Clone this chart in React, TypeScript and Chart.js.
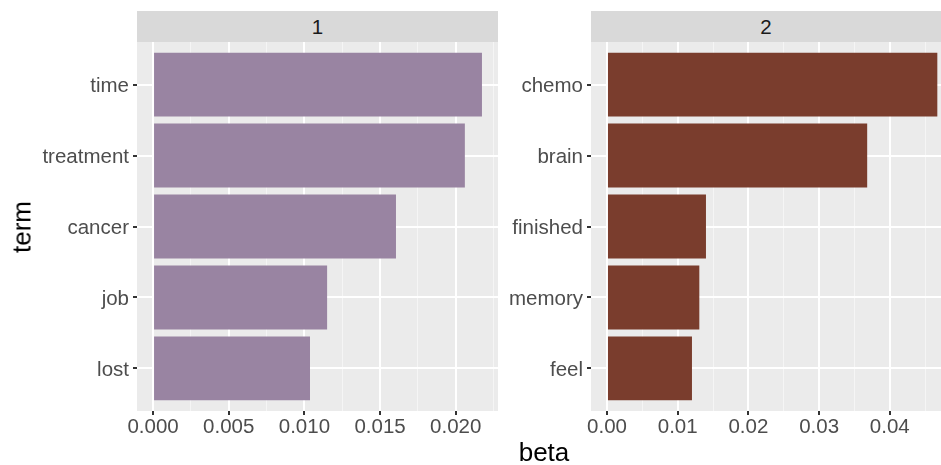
import React, { useEffect, useRef } from "react";
import { Chart, registerables } from "chart.js";

Chart.register(...registerables);

const terms1 = ["time", "treatment", "cancer", "job", "lost"];
const beta1 = [0.02173, 0.0206, 0.01605, 0.0115, 0.01037];
const terms2 = ["chemo", "brain", "finished", "memory", "feel"];
const beta2 = [0.04672, 0.0368, 0.014, 0.01306, 0.01202];
const topics = ["1", "2"];
const ticks1 = [0, 0.0025, 0.005, 0.0075, 0.01, 0.0125, 0.015, 0.0175, 0.02, 0.0225];
const ticks2 = [0, 0.005, 0.01, 0.015, 0.02, 0.025, 0.03, 0.035, 0.04, 0.045];

const FONT = "'Liberation Sans', Arial, sans-serif";

const panelBg = {
  id: "panelBg",
  beforeDraw(chart: any) {
    const { ctx, chartArea } = chart;
    ctx.save();
    ctx.fillStyle = "#EBEBEB";
    ctx.fillRect(chartArea.left, chartArea.top, chartArea.right - chartArea.left, chartArea.bottom - chartArea.top);
    ctx.restore();
  },
};

function makeConfig(
  terms: string[],
  values: number[],
  color: string,
  xTicks: number[],
  majorStep: number,
  decimals: number,
  xmin: number,
  xmax: number,
  yWidth: number,
  padRight: number
) {
  const isMajor = (v: number) => Math.abs(v / majorStep - Math.round(v / majorStep)) < 1e-6;
  return {
    type: "bar" as const,
    data: {
      datasets: [
        {
          data: values.map((v, i) => ({ x: v, y: i + 1 })),
          backgroundColor: color,
          borderWidth: 0,
          categoryPercentage: 1,
          barPercentage: 0.9,
        },
      ],
    },
    options: {
      indexAxis: "y" as const,
      animation: false as const,
      responsive: false,
      layout: { padding: { left: 0, right: padRight, top: 42, bottom: 0 } },
      plugins: { legend: { display: false }, tooltip: { enabled: false }, title: { display: false } },
      scales: {
        x: {
          type: "linear" as const,
          min: xmin,
          max: xmax,
          offset: false,
          afterBuildTicks: (scale: any) => {
            scale.ticks = xTicks.map((value) => ({ value }));
          },
          afterFit: (scale: any) => {
            scale.height = 54;
          },
          border: { display: false },
          grid: {
            offset: false,
            color: (ctx: any) => (ctx.tick && isMajor(ctx.tick.value) ? "#FFFFFF" : "#F5F5F5"),
            lineWidth: (ctx: any) => (ctx.tick && isMajor(ctx.tick.value) ? 2 : 1),
            tickColor: (ctx: any) => (ctx.tick && isMajor(ctx.tick.value) ? "#333333" : "rgba(0,0,0,0)"),
            tickLength: 4,
            drawTicks: true,
          },
          ticks: {
            autoSkip: false,
            maxRotation: 0,
            padding: 0,
            color: "#4D4D4D",
            font: { family: FONT, size: 20.5 },
            callback: (v: any) => (isMajor(Number(v)) ? Number(v).toFixed(decimals) : ""),
          },
        },
        y: {
          type: "linear" as const,
          min: 0.4,
          max: 5.6,
          reverse: true,
          offset: false,
          afterBuildTicks: (scale: any) => {
            scale.ticks = terms.map((_, i) => ({ value: i + 1 }));
          },
          afterFit: (scale: any) => {
            scale.width = yWidth;
          },
          border: { display: false },
          grid: {
            offset: false,
            color: "#FFFFFF",
            lineWidth: 2,
            tickColor: "#333333",
            tickLength: 4,
          },
          ticks: {
            autoSkip: false,
            padding: 4,
            labelOffset: 2,
            color: "#4D4D4D",
            font: { family: FONT, size: 20.5 },
            callback: (v: any) => terms[Math.round(Number(v)) - 1] ?? "",
          },
        },
      },
    },
    plugins: [panelBg],
  };
}

export default function App() {
  const c1 = useRef<HTMLCanvasElement>(null);
  const c2 = useRef<HTMLCanvasElement>(null);

  useEffect(() => {
    document.body.style.margin = "0";
    const ch1 = new Chart(
      c1.current!,
      makeConfig(terms1, beta1, "#9984A2", ticks1, 0.005, 3, -0.00106, 0.02279, 137, 22) as any
    );
    const ch2 = new Chart(
      c2.current!,
      makeConfig(terms2, beta2, "#7A3D2D", ticks2, 0.01, 2, -0.00226, 0.04724, 91, 0) as any
    );
    return () => {
      ch1.destroy();
      ch2.destroy();
    };
  }, []);

  const strip: React.CSSProperties = {
    position: "absolute",
    top: 11,
    height: 31,
    background: "#D9D9D9",
    color: "#1A1A1A",
    font: `20.5px ${FONT}`,
    display: "flex",
    alignItems: "center",
    justifyContent: "center",
  };

  return (
    <div style={{ position: "fixed", left: 0, top: 0, width: 941, height: 465, background: "#FFFFFF", overflow: "hidden" }}>
      <canvas ref={c1} width={520} height={465} style={{ position: "absolute", left: 0, top: 0 }} />
      <canvas ref={c2} width={441} height={465} style={{ position: "absolute", left: 500, top: 0 }} />
      <div style={{ ...strip, left: 137, width: 361 }}>{topics[0]}</div>
      <div style={{ ...strip, left: 591, width: 350 }}>{topics[1]}</div>
      <div
        style={{
          position: "absolute",
          left: 22,
          top: 227,
          transform: "translate(-50%, -50%) rotate(-90deg)",
          font: `26px ${FONT}`,
          color: "#000000",
          whiteSpace: "nowrap",
        }}
      >
        term
      </div>
      <div
        style={{
          position: "absolute",
          left: 544,
          top: 452,
          transform: "translate(-50%, -50%)",
          font: `26px ${FONT}`,
          color: "#000000",
          whiteSpace: "nowrap",
        }}
      >
        beta
      </div>
    </div>
  );
}
